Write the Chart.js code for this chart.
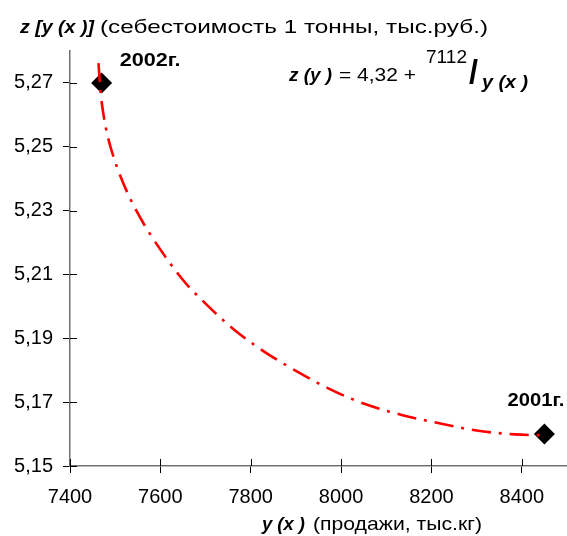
<!DOCTYPE html>
<html>
<head>
<meta charset="utf-8">
<script src="https://cdn.jsdelivr.net/npm/chart.js@4/dist/chart.umd.min.js"></script>
<style>
  html, body { margin: 0; padding: 0; background: #fff; }
  #wrap { width: 567px; height: 536px; position: relative; }
</style>
</head>
<body>
<div id="wrap"><canvas id="c" width="567" height="536"></canvas></div>
<script>
// Actual years: sales y(x), thousand kg, and cost per tonne z, thousand rub.
const yearLabels = ['2001г.', '2002г.'];
const salesActual = [8450, 7470];
const costActual = [5.16, 5.27];

// Fitted cost curve z(y), sampled along its path
const curveSales = [7463, 7470, 7485, 7511, 7546, 7590, 7651, 7697, 7760, 7828, 7900, 7975, 8053, 8134, 8217, 8300, 8384, 8449];
const curveCost = [5.2762, 5.2641, 5.2524, 5.2410, 5.2302, 5.2199, 5.2081, 5.2013, 5.1931, 5.1860, 5.1798, 5.1741, 5.1694, 5.1660, 5.1634, 5.1611, 5.1599, 5.1596];

// Axis ticks
const xTickValues = [7400, 7600, 7800, 8000, 8200, 8400];
const yTickLabels = ['5,15', '5,17', '5,19', '5,21', '5,23', '5,25', '5,27'];
const yTickValues = yTickLabels.map(s => parseFloat(s.replace(',', '.')));

const FAMILY = '"Liberation Sans", Arial, sans-serif';
const BI = size => `italic bold ${size}px ${FAMILY}`;
const B = size => `bold ${size}px ${FAMILY}`;
const R = size => `${size}px ${FAMILY}`;

// Draw a run of text squeezed/stretched horizontally to span [x0, x1]
function fitText(ctx, text, font, x0, x1, baseline) {
  ctx.save();
  ctx.font = font;
  const w = ctx.measureText(text).width;
  const sx = x1 ? (x1 - x0) / w : 1;
  ctx.translate(x0, baseline);
  ctx.scale(sx, 1);
  ctx.textAlign = 'left';
  ctx.textBaseline = 'alphabetic';
  ctx.fillStyle = '#000';
  ctx.fillText(text, 0, 0);
  ctx.restore();
}

// Tick marks crossing the axis lines
const crossTicks = {
  id: 'crossTicks',
  afterDatasetsDraw(chart) {
    const { ctx, scales: { x, y } } = chart;
    ctx.save();
    ctx.strokeStyle = '#000';
    ctx.lineWidth = 1;
    ctx.beginPath();
    xTickValues.forEach(v => {
      const px = Math.round(x.getPixelForValue(v)) + 0.5;
      ctx.moveTo(px, y.bottom - 7);
      ctx.lineTo(px, y.bottom);
    });
    yTickValues.forEach(v => {
      const py = Math.round(y.getPixelForValue(v)) + 0.5;
      ctx.moveTo(x.left, py);
      ctx.lineTo(x.left + 7, py);
    });
    ctx.stroke();
    ctx.restore();
  }
};

// Titles, formula and year labels
const annotations = {
  id: 'annotations',
  afterDraw(chart) {
    const { ctx, scales: { x, y } } = chart;
    // vertical axis title
    fitText(ctx, 'z [y (x )]', BI(19), 20, 94, 33);
    fitText(ctx, '(себестоимость 1 тонны, тыс.руб.)', R(19), 100, 488, 33);
    // horizontal axis title
    fitText(ctx, 'y (x )', BI(19), 262, 305, 530);
    fitText(ctx, '(продажи, тыс.кг)', R(19), 313, 482, 530);
    // formula of the curve
    fitText(ctx, 'z (y )', BI(19), 289, 332, 81);
    fitText(ctx, '= 4,32 +', R(19), 339, 416, 81);
    fitText(ctx, '7112', R(19), 426, 467, 63);
    fitText(ctx, '/', B(34), 469, 478, 83);
    fitText(ctx, 'y (x )', BI(19), 482, 528, 88);
    // year labels next to the points
    const p0x = x.getPixelForValue(salesActual[0]), p0y = y.getPixelForValue(costActual[0]);
    const p1x = x.getPixelForValue(salesActual[1]), p1y = y.getPixelForValue(costActual[1]);
    fitText(ctx, yearLabels[0], B(18), p0x - 37, p0x + 20, p0y - 28);
    fitText(ctx, yearLabels[1], B(18), p1x + 18, p1x + 79, p1y - 17);
  }
};

new Chart(document.getElementById('c'), {
  type: 'scatter',
  data: {
    datasets: [
      {
        type: 'line',
        label: 'z(y)',
        data: curveSales.map((v, i) => ({ x: v, y: curveCost[i] })),
        borderColor: '#ff0000',
        borderWidth: 2.6,
        borderDash: [19, 8, 3, 8],
        borderCapStyle: 'butt',
        pointRadius: 0,
        fill: false,
        tension: 0.35,
        order: 0
      },
      {
        label: 'факт',
        data: salesActual.map((v, i) => ({ x: v, y: costActual[i] })),
        pointStyle: 'rectRot',
        pointRadius: 10.5,
        backgroundColor: '#000',
        borderColor: '#000',
        borderWidth: 0,
        order: 1
      }
    ]
  },
  options: {
    responsive: false,
    animation: false,
    devicePixelRatio: 1,
    layout: { autoPadding: false, padding: { top: 51, left: 0, right: 0, bottom: 0 } },
    plugins: { legend: { display: false }, tooltip: { enabled: false } },
    scales: {
      x: {
        type: 'linear',
        min: 7400,
        max: 8500,
        afterBuildTicks: s => { s.ticks = xTickValues.map(v => ({ value: v })); },
        afterFit: s => { s.height = 70; s.paddingLeft = 0; s.paddingRight = 0; },
        grid: { drawOnChartArea: false, drawTicks: true, tickLength: 7, color: '#000' },
        border: { display: true, color: '#707070', width: 1.5 },
        ticks: { font: { family: FAMILY, size: 20 }, color: '#000', padding: 12, maxRotation: 0, autoSkip: false,
                 callback: v => String(v) }
      },
      y: {
        type: 'linear',
        min: 5.15,
        max: 5.28,
        afterBuildTicks: s => { s.ticks = yTickValues.map(v => ({ value: v })); },
        afterFit: s => { s.width = 70; s.paddingTop = 0; s.paddingBottom = 0; },
        grid: { drawOnChartArea: false, drawTicks: true, tickLength: 7, color: '#000' },
        border: { display: true, color: '#707070', width: 1.5 },
        ticks: { font: { family: FAMILY, size: 20 }, color: '#000', padding: 10, autoSkip: false,
                 callback: v => yTickLabels[yTickValues.findIndex(t => Math.abs(t - v) < 1e-6)] }
      }
    }
  },
  plugins: [crossTicks, annotations]
});
</script>
</body>
</html>
